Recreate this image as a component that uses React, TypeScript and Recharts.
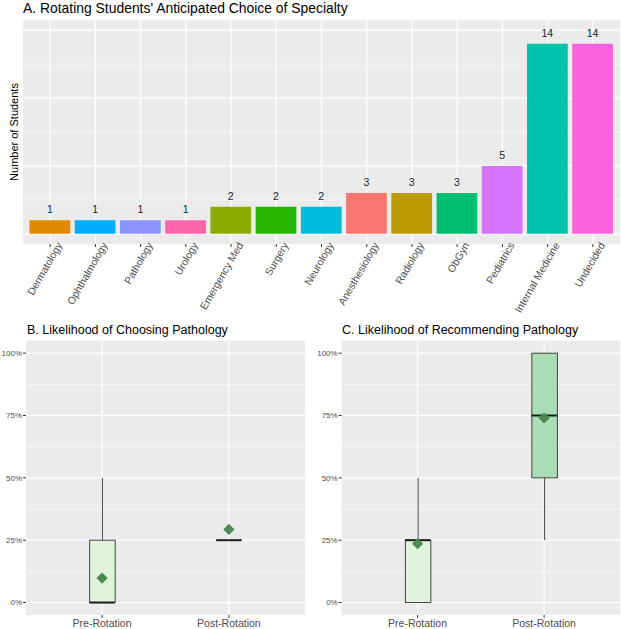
import React from 'react';
import {
  BarChart,
  Bar,
  XAxis,
  YAxis,
  CartesianGrid,
  ReferenceLine,
  LabelList,
  Cell,
  ComposedChart,
  Scatter,
} from 'recharts';

// ---------- Panel A data ----------
const specialties = [
  'Dermatology',
  'Ophthalmology',
  'Pathology',
  'Urology',
  'Emergency Med',
  'Surgery',
  'Neurology',
  'Anesthesiology',
  'Radiology',
  'ObGyn',
  'Pediatrics',
  'Internal Medicine',
  'Undecided',
];
const studentCounts = [1, 1, 1, 1, 2, 2, 2, 3, 3, 3, 5, 14, 14];
const specialtyColors = [
  '#E18A00',
  '#00ACFC',
  '#8B93FF',
  '#FF65AC',
  '#8CAB00',
  '#24B700',
  '#00BBDA',
  '#F8766D',
  '#BE9C00',
  '#00BE70',
  '#D575FE',
  '#00C1AB',
  '#F962DD',
];
const countMajorGrid = [0, 5, 10, 15];
const countMinorGrid = [2.5, 7.5, 12.5];

// ---------- Panels B & C data ----------
const phases = ['Pre-Rotation', 'Post-Rotation'];
const phaseFills = ['#E0F3DB', '#A8DDB5'];
// B. Likelihood of choosing pathology (%)
const chooseMin = [0, 25];
const chooseQ1 = [0, 25];
const chooseMedian = [0, 25];
const chooseQ3 = [25, 25];
const chooseMax = [50, 25];
const chooseMean = [9.8, 29.3];
// C. Likelihood of recommending pathology (%)
const recMin = [0, 25];
const recQ1 = [0, 50];
const recMedian = [25, 75];
const recQ3 = [25, 100];
const recMax = [50, 100];
const recMean = [23.6, 74];
const pctTicks = [0, 25, 50, 75, 100];
const pctMinor = [12.5, 37.5, 62.5, 87.5];

const FONT = '"Liberation Sans", Arial, Helvetica, sans-serif';
const GRID_BG = '#EBEBEB';
const AXIS_TEXT = '#4D4D4D';
const TICK_LINE = '#333333';
const MEAN_COLOR = '#4B8B53';

const barData = specialties.map((name, i) => ({ name, count: studentCounts[i] }));

const buildBox = (
  mn: number[],
  q1: number[],
  med: number[],
  q3: number[],
  mx: number[],
  mean: number[]
) =>
  phases.map((name, i) => ({
    name,
    base: mn[i],
    lowWhisker: q1[i] - mn[i],
    box: q3[i] - q1[i],
    highWhisker: mx[i] - q3[i],
    median: med[i],
    mean: mean[i],
  }));

const chooseData = buildBox(chooseMin, chooseQ1, chooseMedian, chooseQ3, chooseMax, chooseMean);
const recData = buildBox(recMin, recQ1, recMedian, recQ3, recMax, recMean);

const RotTick = (props: any) => {
  const { x, y, payload } = props;
  const tx = x + 12.5;
  const ty = y - 2;
  return (
    <text
      x={tx}
      y={ty}
      transform={`rotate(-60 ${tx} ${ty})`}
      textAnchor="end"
      fontSize={10.4}
      fill={AXIS_TEXT}
      fontFamily={FONT}
    >
      {payload.value}
    </text>
  );
};

const WhiskerShape = (props: any) => {
  const { x, y, width, height } = props;
  if (!height || height <= 0) return <g />;
  const cx = x + width / 2;
  return <line x1={cx} x2={cx} y1={y} y2={y + height} stroke="#333333" strokeWidth={0.9} />;
};

const BoxShape = (props: any) => {
  const { x, y, width, height, fill } = props;
  if (!height || height <= 0) return <g />;
  return (
    <rect x={x} y={y} width={width} height={height} fill={fill} stroke="#333333" strokeWidth={0.9} />
  );
};

const BOX_W = 25.5;

const MedianShape = (props: any) => {
  const { cx, cy } = props;
  return (
    <line
      x1={cx - BOX_W / 2}
      x2={cx + BOX_W / 2}
      y1={cy}
      y2={cy}
      stroke="#1A1A1A"
      strokeWidth={2}
    />
  );
};

const DiamondShape = (props: any) => {
  const { cx, cy } = props;
  const r = 5.6;
  return (
    <polygon
      points={`${cx},${cy - r} ${cx + r},${cy} ${cx},${cy + r} ${cx - r},${cy}`}
      fill={MEAN_COLOR}
    />
  );
};

const BoxPanel = ({
  data,
  width,
  height,
  yAxisWidth,
  rightMargin,
}: {
  data: any[];
  width: number;
  height: number;
  yAxisWidth: number;
  rightMargin: number;
}) => {
  const plotW = width - yAxisWidth - rightMargin;
  const band = plotW / 2.2;
  const pad = band * 0.1;
  return (
    <ComposedChart
      width={width}
      height={height}
      data={data}
      margin={{ top: 30.7, right: rightMargin, bottom: 0, left: 0 }}
    >
      <CartesianGrid fill={GRID_BG} stroke="none" horizontal={false} vertical={false} />
      {pctMinor.map((v) => (
        <ReferenceLine key={'mn' + v} y={v} stroke="#FFFFFF" strokeWidth={0.6} zIndex={-50} />
      ))}
      {pctTicks.map((v) => (
        <ReferenceLine key={'mj' + v} y={v} stroke="#FFFFFF" strokeWidth={1.2} zIndex={-50} />
      ))}
      {phases.map((p) => (
        <ReferenceLine key={'v' + p} x={p} stroke="#FFFFFF" strokeWidth={1.2} zIndex={-50} />
      ))}
      <XAxis
        dataKey="name"
        type="category"
        height={14}
        padding={{ left: pad, right: pad }}
        axisLine={false}
        tickLine={{ stroke: TICK_LINE }}
        tickSize={3}
        tickMargin={2}
        tick={{ fontSize: 10.5, fill: AXIS_TEXT, fontFamily: FONT }}
        interval={0}
      />
      <YAxis
        type="number"
        domain={[-5, 105]}
        ticks={pctTicks}
        allowDataOverflow
        width={yAxisWidth}
        axisLine={false}
        tickLine={{ stroke: TICK_LINE }}
        tickSize={3}
        tickMargin={1}
        tickFormatter={(v: number) => `${v}%`}
        tick={{ fontSize: 8, fill: AXIS_TEXT, fontFamily: FONT }}
      />
      <Bar dataKey="base" stackId="s" fill="none" barSize={BOX_W} isAnimationActive={false} />
      <Bar
        dataKey="lowWhisker"
        stackId="s"
        barSize={BOX_W}
        shape={WhiskerShape}
        isAnimationActive={false}
      />
      <Bar dataKey="box" stackId="s" barSize={BOX_W} shape={BoxShape} isAnimationActive={false}>
        {data.map((d, i) => (
          <Cell key={d.name} fill={phaseFills[i]} />
        ))}
      </Bar>
      <Bar
        dataKey="highWhisker"
        stackId="s"
        barSize={BOX_W}
        shape={WhiskerShape}
        isAnimationActive={false}
      />
      <Scatter dataKey="median" shape={MedianShape} isAnimationActive={false} />
      <Scatter dataKey="mean" shape={DiamondShape} isAnimationActive={false} />
    </ComposedChart>
  );
};

export default function App() {
  const aLeft = 23;
  const aRight = 620;
  const bandA = (aRight - aLeft) / 13.2;
  const padA = bandA * 0.1;
  return (
    <div
      style={{
        position: 'absolute',
        left: 0,
        top: 0,
        width: 621,
        height: 629,
        background: '#FFFFFF',
        fontFamily: FONT,
        overflow: 'hidden',
      }}
    >
      <style>{`.recharts-surface { overflow: visible; }`}</style>
      <div style={{ position: 'absolute', left: 0, top: 0, zIndex: 2 }}>
        <BarChart
          width={621}
          height={310}
          data={barData}
          margin={{ top: 20, right: 621 - aRight, bottom: 0, left: aLeft }}
        >
          <CartesianGrid fill={GRID_BG} stroke="none" horizontal={false} vertical={false} />
          {countMinorGrid.map((v) => (
            <ReferenceLine key={'mn' + v} y={v} stroke="#FFFFFF" strokeWidth={0.6} zIndex={-50} />
          ))}
          {countMajorGrid.map((v) => (
            <ReferenceLine key={'mj' + v} y={v} stroke="#FFFFFF" strokeWidth={1.2} zIndex={-50} />
          ))}
          {specialties.map((s) => (
            <ReferenceLine key={'v' + s} x={s} stroke="#FFFFFF" strokeWidth={1.2} zIndex={-50} />
          ))}
          <XAxis
            dataKey="name"
            type="category"
            interval={0}
            height={66}
            padding={{ left: padA, right: padA }}
            axisLine={false}
            tickLine={{ stroke: TICK_LINE }}
            tickSize={3}
            tickMargin={0}
            tick={<RotTick />}
          />
          <YAxis hide type="number" domain={[-0.75, 15.75]} allowDataOverflow />
          <Bar dataKey="count" barSize={bandA * 0.9} isAnimationActive={false}>
            {barData.map((d, i) => (
              <Cell key={d.name} fill={specialtyColors[i]} />
            ))}
            <LabelList
              dataKey="count"
              position="top"
              offset={7}
              fill="#1A1A1A"
              fontSize={10.5}
              fontFamily={FONT}
            />
          </Bar>
        </BarChart>
      </div>
      <div style={{ position: 'absolute', left: 0, top: 310, zIndex: 1 }}>
        <BoxPanel data={chooseData} width={310} height={319} yAxisWidth={26} rightMargin={5} />
      </div>
      <div style={{ position: 'absolute', left: 310, top: 310, zIndex: 1 }}>
        <BoxPanel data={recData} width={311} height={319} yAxisWidth={31.7} rightMargin={1} />
      </div>
      <svg
        width={621}
        height={629}
        style={{ position: 'absolute', left: 0, top: 0, pointerEvents: 'none', zIndex: 3 }}
      >
        <text x={23} y={13} fontSize={13.9} fill="#000000" fontFamily={FONT}>
          A. Rotating Students' Anticipated Choice of Specialty
        </text>
        <text
          x={0}
          y={0}
          transform="translate(17.5 132) rotate(-90)"
          textAnchor="middle"
          fontSize={11}
          fill="#000000"
          fontFamily={FONT}
        >
          Number of Students
        </text>
        <text x={27} y={334} fontSize={12.5} fill="#000000" fontFamily={FONT}>
          B. Likelihood of Choosing Pathology
        </text>
        <text x={342} y={334} fontSize={12.5} fill="#000000" fontFamily={FONT}>
          C. Likelihood of Recommending Pathology
        </text>
      </svg>
    </div>
  );
}
